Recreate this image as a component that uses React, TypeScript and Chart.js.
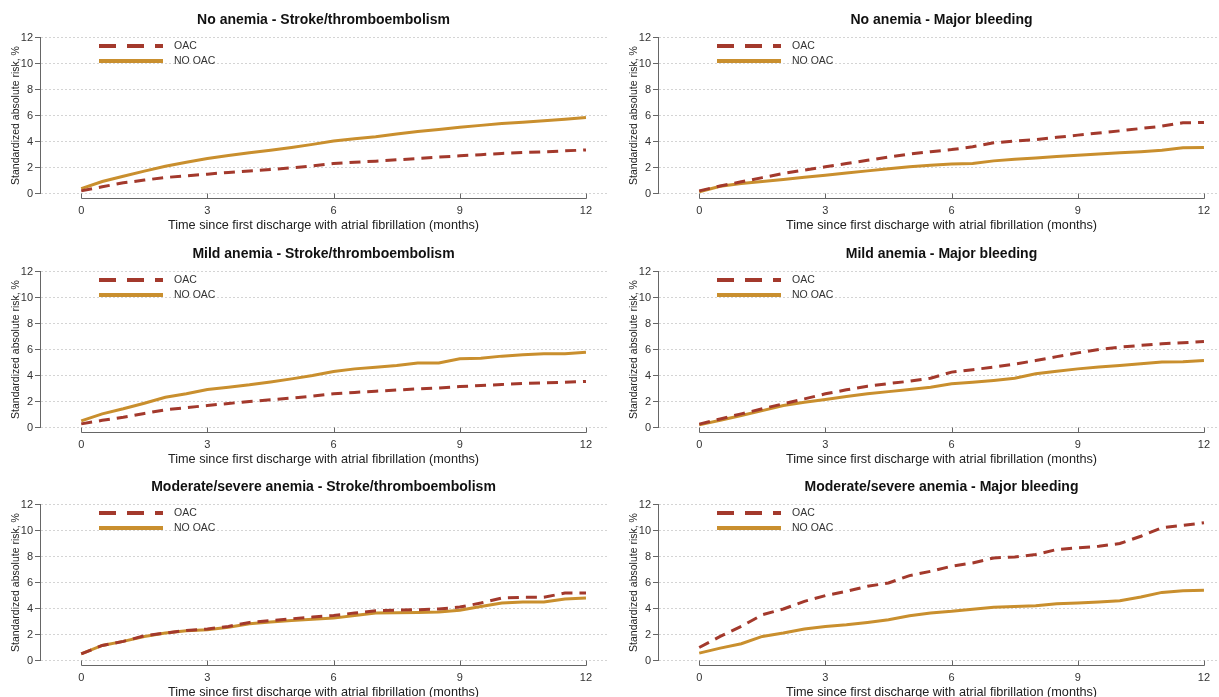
import React, { useEffect, useRef } from "react";
import { Chart, registerables } from "chart.js";

Chart.register(...registerables);

// ---------- data ----------
const months = [0, 0.5, 1, 1.5, 2, 2.5, 3, 3.5, 4, 4.5, 5, 5.5, 6, 6.5, 7, 7.5, 8, 8.5, 9, 9.5, 10, 10.5, 11, 11.5, 12];
const xTickValues = [0, 3, 6, 9, 12];
const yTickValues = [0, 2, 4, 6, 8, 10, 12];
const seriesLabels = ["OAC", "NO OAC"];
const xAxisTitle = "Time since first discharge with atrial fibrillation (months)";
const yAxisTitle = "Standardized absolute risk, %";
const panelTitles = [
  "No anemia - Stroke/thromboembolism",
  "No anemia - Major bleeding",
  "Mild anemia - Stroke/thromboembolism",
  "Mild anemia - Major bleeding",
  "Moderate/severe anemia - Stroke/thromboembolism",
  "Moderate/severe anemia - Major bleeding",
];

const noAnemiaStrokeOAC = [0.2, 0.52, 0.82, 1.03, 1.23, 1.36, 1.49, 1.62, 1.74, 1.85, 1.97, 2.13, 2.3, 2.4, 2.49, 2.59, 2.69, 2.8, 2.9, 2.99, 3.08, 3.15, 3.21, 3.28, 3.35];
const noAnemiaStrokeNoOAC = [0.38, 0.92, 1.33, 1.72, 2.1, 2.4, 2.69, 2.92, 3.13, 3.33, 3.54, 3.78, 4.03, 4.22, 4.36, 4.57, 4.77, 4.93, 5.1, 5.24, 5.38, 5.48, 5.59, 5.72, 5.85];

const noAnemiaBleedOAC = [0.2, 0.58, 0.9, 1.22, 1.54, 1.8, 2.05, 2.3, 2.56, 2.8, 3.03, 3.22, 3.38, 3.59, 3.9, 4.03, 4.15, 4.32, 4.49, 4.65, 4.82, 5.0, 5.18, 5.44, 5.46];
const noAnemiaBleedNoOAC = [0.13, 0.56, 0.77, 0.93, 1.08, 1.25, 1.41, 1.58, 1.74, 1.9, 2.05, 2.17, 2.26, 2.31, 2.51, 2.63, 2.74, 2.85, 2.95, 3.04, 3.13, 3.22, 3.33, 3.51, 3.54];

const mildStrokeOAC = [0.28, 0.55, 0.79, 1.08, 1.36, 1.53, 1.69, 1.85, 2.0, 2.13, 2.26, 2.42, 2.59, 2.7, 2.79, 2.88, 2.97, 3.04, 3.15, 3.23, 3.31, 3.38, 3.44, 3.48, 3.54];
const mildStrokeNoOAC = [0.51, 1.05, 1.44, 1.87, 2.33, 2.59, 2.92, 3.1, 3.28, 3.5, 3.74, 4.0, 4.31, 4.51, 4.64, 4.77, 4.97, 4.97, 5.28, 5.33, 5.49, 5.59, 5.67, 5.67, 5.79];

const mildBleedOAC = [0.26, 0.66, 1.05, 1.44, 1.82, 2.2, 2.59, 2.9, 3.18, 3.38, 3.56, 3.79, 4.26, 4.45, 4.64, 4.88, 5.15, 5.45, 5.74, 6.0, 6.18, 6.32, 6.44, 6.52, 6.62];
const mildBleedNoOAC = [0.2, 0.56, 0.92, 1.3, 1.69, 1.95, 2.15, 2.38, 2.59, 2.76, 2.92, 3.1, 3.36, 3.48, 3.62, 3.79, 4.13, 4.32, 4.51, 4.65, 4.77, 4.9, 5.03, 5.05, 5.15];

const modSevStrokeOAC = [0.51, 1.16, 1.47, 1.9, 2.11, 2.31, 2.42, 2.62, 2.93, 3.07, 3.21, 3.34, 3.47, 3.65, 3.83, 3.87, 3.91, 3.96, 4.11, 4.42, 4.81, 4.86, 4.86, 5.19, 5.19];
const modSevStrokeNoOAC = [0.51, 1.16, 1.47, 1.85, 2.11, 2.29, 2.37, 2.55, 2.83, 2.96, 3.08, 3.17, 3.26, 3.47, 3.65, 3.68, 3.7, 3.73, 3.86, 4.16, 4.42, 4.5, 4.5, 4.73, 4.81];

const modSevBleedOAC = [1.0, 1.85, 2.62, 3.52, 3.96, 4.55, 4.99, 5.32, 5.71, 5.96, 6.53, 6.86, 7.25, 7.5, 7.89, 7.97, 8.15, 8.54, 8.66, 8.79, 9.0, 9.56, 10.21, 10.39, 10.59];
const modSevBleedNoOAC = [0.57, 0.95, 1.29, 1.85, 2.11, 2.42, 2.62, 2.75, 2.93, 3.14, 3.44, 3.65, 3.78, 3.95, 4.09, 4.15, 4.22, 4.37, 4.42, 4.5, 4.6, 4.88, 5.24, 5.37, 5.4];

// ---------- styling ----------
const FONT = '"Liberation Sans", Arial, Helvetica, sans-serif';
const OAC_COLOR = "#a3392c";
const NOOAC_COLOR = "#c98f2e";
const AXIS_COLOR = "#666666";
const TEXT_COLOR = "#333333";

Chart.defaults.font.family = FONT;

const stataPlugin = {
  id: "stataDecor",
  afterDraw(chart: any) {
    const { ctx, chartArea, scales } = chart;
    const x = scales.x;
    const axisY = chartArea.bottom + 4;
    ctx.save();
    // x axis line from first to last tick, ticks rising to plot region
    ctx.strokeStyle = AXIS_COLOR;
    ctx.lineWidth = 1;
    ctx.setLineDash([]);
    ctx.beginPath();
    const xa = Math.round(x.getPixelForValue(xTickValues[0])) + 0.5;
    const xb = Math.round(x.getPixelForValue(xTickValues[xTickValues.length - 1])) + 0.5;
    const ay = Math.round(axisY) + 0.5;
    ctx.moveTo(xa, ay);
    ctx.lineTo(xb, ay);
    xTickValues.forEach((v) => {
      const px = Math.round(x.getPixelForValue(v)) + 0.5;
      ctx.moveTo(px, ay);
      ctx.lineTo(px, chartArea.bottom);
    });
    ctx.stroke();

    // legend inside plot region
    chart.data.datasets.forEach((ds: any, i: number) => {
      const ly = chartArea.top + 8.5 + i * 15;
      ctx.save();
      ctx.strokeStyle = ds.borderColor;
      ctx.lineWidth = 4;
      ctx.lineCap = "butt";
      ctx.setLineDash(i === 0 ? [17, 11] : []);
      ctx.beginPath();
      ctx.moveTo(chartArea.left + 59, ly);
      ctx.lineTo(chartArea.left + 123, ly);
      ctx.stroke();
      ctx.restore();
      ctx.fillStyle = TEXT_COLOR;
      ctx.font = `10.5px ${FONT}`;
      ctx.textBaseline = "middle";
      ctx.textAlign = "left";
      ctx.fillText(ds.label, chartArea.left + 134, ly);
    });
    ctx.restore();
  },
};

type PanelProps = { title: string; oac: number[]; noOac: number[]; left: number; top: number };

function Panel({ title, oac, noOac, left, top }: PanelProps) {
  const ref = useRef<HTMLCanvasElement | null>(null);
  useEffect(() => {
    if (!ref.current) return;
    const chart = new Chart(ref.current, {
      type: "line",
      data: {
        datasets: [
          {
            label: seriesLabels[0],
            data: months.map((m, i) => ({ x: m, y: oac[i] })),
            borderColor: OAC_COLOR,
            backgroundColor: OAC_COLOR,
            borderWidth: 3,
            borderDash: [11, 7],
            pointRadius: 0,
            tension: 0,
            fill: false,
          },
          {
            label: seriesLabels[1],
            data: months.map((m, i) => ({ x: m, y: noOac[i] })),
            borderColor: NOOAC_COLOR,
            backgroundColor: NOOAC_COLOR,
            borderWidth: 3,
            pointRadius: 0,
            tension: 0,
            fill: false,
          },
        ],
      },
      options: {
        responsive: false,
        animation: false,
        layout: { padding: { left: 0, right: 5, top: 0, bottom: 0 } },
        plugins: {
          legend: { display: false },
          tooltip: { enabled: false },
          title: {
            display: true,
            text: title,
            fullSize: false,
            color: "#111111",
            font: { family: FONT, size: 14, weight: "bold" },
            padding: { top: 12.1, bottom: 8.6 },
          },
        },
        scales: {
          x: {
            type: "linear",
            min: -0.98,
            max: 12.5,
            afterBuildTicks: (s: any) => {
              s.ticks = xTickValues.map((v) => ({ value: v }));
            },
            afterFit: (s: any) => {
              s.height = 40.5;
            },
            grid: { display: false, drawTicks: false, tickLength: 0 },
            border: { display: false },
            ticks: {
              padding: 10.9,
              color: TEXT_COLOR,
              font: { family: FONT, size: 11 },
              maxRotation: 0,
              autoSkip: false,
              callback: (v: any) => String(v),
            },
            title: {
              display: true,
              text: xAxisTitle,
              color: "#222222",
              font: { family: FONT, size: 12.7 },
              padding: { top: 0, bottom: 0.6 },
            },
          },
          y: {
            type: "linear",
            min: yTickValues[0],
            max: yTickValues[yTickValues.length - 1],
            afterBuildTicks: (s: any) => {
              s.ticks = yTickValues.map((v) => ({ value: v }));
            },
            afterFit: (s: any) => {
              s.width = 40;
            },
            grid: {
              color: "#d4d4d4",
              lineWidth: 1,
              drawTicks: true,
              tickLength: 5,
              tickColor: AXIS_COLOR,
              tickWidth: 1,
              tickBorderDash: [],
            },
            border: { display: true, color: AXIS_COLOR, width: 1, dash: [2, 2] },
            ticks: {
              padding: 2,
              color: TEXT_COLOR,
              font: { family: FONT, size: 11 },
              autoSkip: false,
            },
            title: {
              display: true,
              text: yAxisTitle,
              color: "#222222",
              font: { family: FONT, size: 10.5 },
              padding: { top: 9.7, bottom: 0 },
            },
          },
        },
      } as any,
      plugins: [stataPlugin],
    });
    return () => chart.destroy();
  }, [title, oac, noOac]);

  return (
    <canvas
      ref={ref}
      width={612}
      height={234}
      style={{ position: "absolute", left, top, width: 612, height: 234 }}
    />
  );
}

const panelData = [
  [noAnemiaStrokeOAC, noAnemiaStrokeNoOAC],
  [noAnemiaBleedOAC, noAnemiaBleedNoOAC],
  [mildStrokeOAC, mildStrokeNoOAC],
  [mildBleedOAC, mildBleedNoOAC],
  [modSevStrokeOAC, modSevStrokeNoOAC],
  [modSevBleedOAC, modSevBleedNoOAC],
];
const colLefts = [0, 618];
const rowTops = [0, 234, 467];

export default function App() {
  return (
    <div
      style={{
        position: "absolute",
        left: 0,
        top: 0,
        width: 1219,
        height: 697,
        overflow: "hidden",
        background: "#ffffff",
      }}
    >
      {panelTitles.map((t, i) => (
        <Panel
          key={t}
          title={t}
          oac={panelData[i][0]}
          noOac={panelData[i][1]}
          left={colLefts[i % 2]}
          top={rowTops[Math.floor(i / 2)]}
        />
      ))}
    </div>
  );
}
